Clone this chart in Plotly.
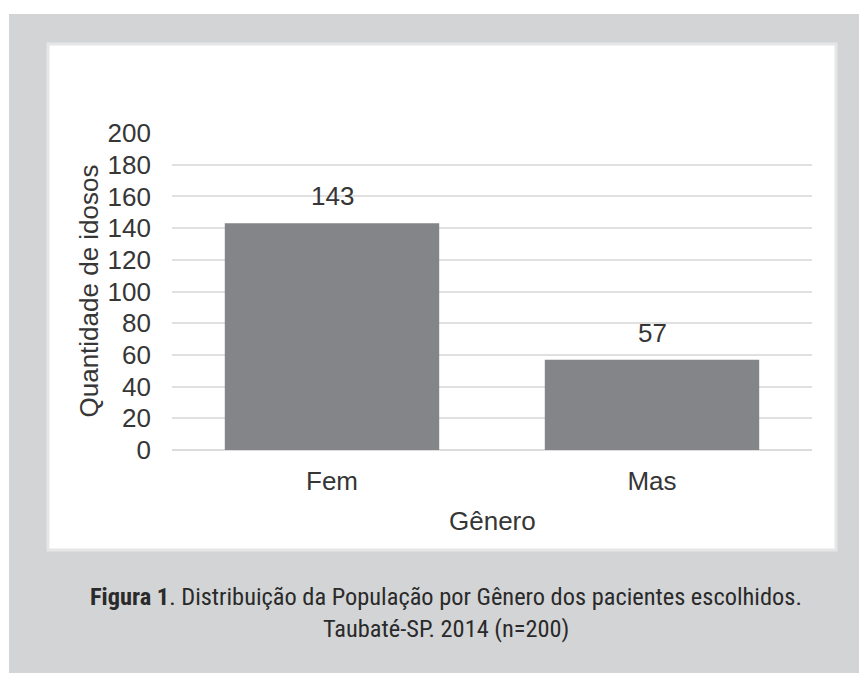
import plotly.graph_objects as go

categories = ["Fem", "Mas"]
values = [143, 57]
y_ticks = [0, 20, 40, 60, 80, 100, 120, 140, 160, 180, 200]

OFF = 8  # browser body margin
W, H = 867 - OFF, 673 - OFF
# plot area in page coordinates: x 172..812, y 133..450
L, R = 172 - OFF, 867 - 812
T, B = 133 - OFF, 673 - 450
PW, PH = W - L - R, H - T - B


def px(x):
    return (x - OFF - L) / PW


def py(y):
    return (H - B - (y - OFF)) / PH


FONT = "Arial, Liberation Sans, sans-serif"
TXT = "#363636"

fig = go.Figure()
fig.add_trace(go.Bar(
    x=categories, y=values,
    marker=dict(color="#848589", line=dict(width=0)),
    hoverinfo="x+y",
))

annotations = []
for c, v in zip(categories, values):
    annotations.append(dict(
        x=c, y=v, xref="x", yref="y", text=str(v), showarrow=False,
        yanchor="bottom", yshift=10,
        font=dict(family=FONT, size=26, color=TXT),
    ))

annotations.append(dict(
    x=px(88), y=0.5, xref="paper", yref="paper", text="Quantidade de idosos",
    textangle=-90, showarrow=False, xanchor="center", yanchor="middle",
    font=dict(family=FONT, size=26, color=TXT),
))
annotations.append(dict(
    x=0.5, y=py(521), xref="paper", yref="paper", text="Gênero",
    showarrow=False, xanchor="center", yanchor="middle",
    font=dict(family=FONT, size=26, color=TXT),
))
CAP = "Roboto Condensed, Liberation Sans Narrow, sans-serif"
annotations.append(dict(
    x=px(446), y=py(596), xref="paper", yref="paper",
    text="<b>Figura 1</b>. Distribuição da População por Gênero dos pacientes escolhidos.",
    showarrow=False, xanchor="center", yanchor="middle",
    font=dict(family=CAP, size=24.4, color="#2a2a2a"),
))
annotations.append(dict(
    x=px(446), y=py(628), xref="paper", yref="paper",
    text="Taubaté-SP. 2014 (n=200)",
    showarrow=False, xanchor="center", yanchor="middle",
    font=dict(family=CAP, size=24.4, color="#2a2a2a"),
))

shapes = [
    dict(type="rect", xref="paper", yref="paper", layer="below",
         x0=px(9), x1=px(900), y0=py(14), y1=py(700),
         fillcolor="#d3d4d6", line=dict(width=0)),
    dict(type="rect", xref="paper", yref="paper", layer="below",
         x0=px(48), x1=px(836), y0=py(44), y1=py(550),
         fillcolor="#ffffff", line=dict(color="#e6e6e6", width=3)),
]

fig.update_layout(
    width=W, height=H,
    margin=dict(l=L, r=R, t=T, b=B, pad=0),
    paper_bgcolor="#ffffff", plot_bgcolor="rgba(0,0,0,0)",
    showlegend=False, bargap=0.33,
    annotations=annotations, shapes=shapes,
    font=dict(family=FONT, size=26, color=TXT),
)
fig.update_xaxes(
    showgrid=False, showline=False, ticks="",
    tickfont=dict(family=FONT, size=26, color=TXT),
    ticklabelstandoff=13,
)
fig.update_yaxes(
    range=[0, 200], tickvals=y_ticks, ticktext=[str(t) for t in y_ticks],
    showgrid=True, gridcolor="#e0e0e0", gridwidth=1.5,
    zeroline=True, zerolinecolor="#dcdcdc", zerolinewidth=1.5,
    showline=False, ticks="",
    tickfont=dict(family=FONT, size=26, color=TXT),
    ticklabelstandoff=20,
)

fig.write_html("out.html")
